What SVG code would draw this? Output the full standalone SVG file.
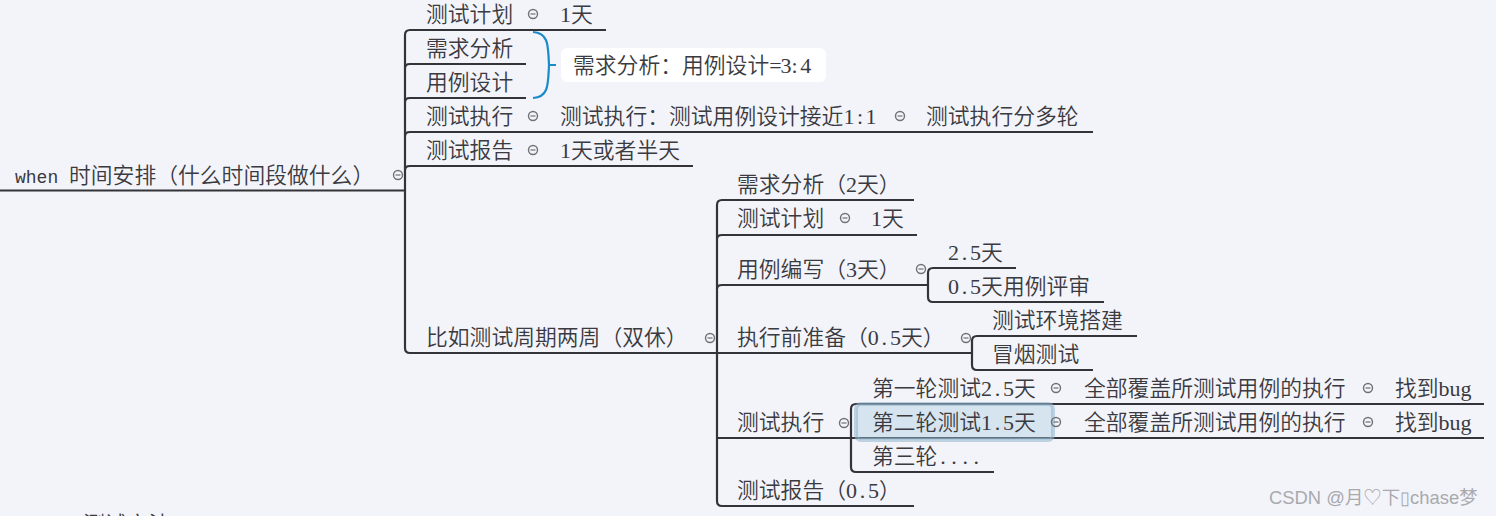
<svg xmlns="http://www.w3.org/2000/svg" width="1496" height="516" viewBox="0 0 1496 516">
<style>
text{font-family:"Noto Sans CJK SC","Liberation Serif",serif;font-size:21.8px;font-weight:350;fill:#3a3a40;white-space:pre}
tspan.l{font-family:"Liberation Mono",monospace;font-size:18px}
tspan.s{font-family:"Liberation Serif",serif;font-size:22px}
.c path{fill:none;stroke:#333338;stroke-width:2.2}
.t{fill:none;stroke:#6f7176;stroke-width:1.4}
.m{fill:none;stroke:#6f7176;stroke-width:1.2}
</style>
<defs><g id="tg"><circle class="t" r="4.5"/><line class="m" x1="-2.5" x2="2.5"/></g></defs>
<rect width="1496" height="516" fill="#f3f4fa"/>
<g id="connectors" class="c">
<path d="M0 190.5H405"/>
<path d="M405 190.5V35q0-5 5-5H606"/>
<path d="M405 68q0-4 5-4H526"/>
<path d="M405 102q0-4 5-4H526"/>
<path d="M405 136q0-4 5-4H1093"/>
<path d="M405 170q0-4 5-4H693"/>
<path d="M405 190V348q0 5 5 5H717"/>
<path d="M717 353V205q0-5 5-5H914"/>
<path d="M717 239q0-4 5-4H917"/>
<path d="M717 289q0-4 5-4H928"/>
<path d="M717 353H972"/>
<path d="M717 353V501q0 5 5 5H914"/>
<path d="M717 438H851"/>
<path d="M928 285V273q0-5 5-5H1016"/>
<path d="M928 285V297q0 5 5 5H1104"/>
<path d="M972 353V341q0-5 5-5H1137"/>
<path d="M972 353V365q0 5 5 5H1093"/>
<path d="M851 438V409q0-5 5-5H1484"/>
<path d="M851 438H1484"/>
<path d="M851 438V467q0 5 5 5H994"/>
</g>
<path d="M533 32C549 33 548 46 549 65C548 84 549 97 533 98M549 65H556" fill="none" stroke="#1a8bc9" stroke-width="2.2"/>
<g id="n-root"><text x="15" y="183"><tspan class="l">when </tspan>时间安排（什么时间段做什么）</text><use href="#tg" x="398" y="175"/></g>
<g id="n-plan"><text x="426" y="22">测试计划</text><use href="#tg" x="533" y="14"/><text x="560" y="22"><tspan class="s">1</tspan>天</text></g>
<g id="n-req"><text x="426" y="56">需求分析</text></g>
<g id="n-case"><text x="426" y="90">用例设计</text></g>
<g id="n-note"><rect x="561" y="48" width="265" height="34" rx="6" fill="#fff"/><text x="573" y="73">需求分析：用例设计<tspan class="s" dx="0 -1 0 2.5 2.5">=3:4</tspan></text></g>
<g id="n-exec"><text x="426" y="124">测试执行</text><use href="#tg" x="533" y="116"/><text x="560" y="124">测试执行：测试用例设计接近<tspan class="s" dx="0 2.5 2.5">1:1</tspan></text><use href="#tg" x="900" y="116"/><text x="926" y="124">测试执行分多轮</text></g>
<g id="n-report"><text x="426" y="158">测试报告</text><use href="#tg" x="533" y="150"/><text x="560" y="158"><tspan class="s">1</tspan>天或者半天</text></g>
<g id="n-eg"><text x="426" y="345">比如测试周期两周（双休）</text><use href="#tg" x="710" y="338"/></g>
<g id="n-a1"><text x="737" y="192">需求分析（<tspan class="s">2</tspan>天）</text></g>
<g id="n-a2"><text x="737" y="226">测试计划</text><use href="#tg" x="845" y="218"/><text x="871" y="226"><tspan class="s">1</tspan>天</text></g>
<g id="n-a3"><text x="737" y="277">用例编写（<tspan class="s">3</tspan>天）</text><use href="#tg" x="921" y="269"/></g>
<g id="n-a31"><text x="948" y="260"><tspan class="s" dx="0 2.8 2.8">2.5</tspan>天</text></g>
<g id="n-a32"><text x="948" y="294"><tspan class="s" dx="0 2.8 2.8">0.5</tspan>天用例评审</text></g>
<g id="n-a4"><text x="737" y="345">执行前准备（<tspan class="s" dx="0 2.8 2.8">0.5</tspan>天）</text><use href="#tg" x="966" y="338"/></g>
<g id="n-a41"><text x="992" y="328">测试环境搭建</text></g>
<g id="n-a42"><text x="992" y="362">冒烟测试</text></g>
<g id="n-a5"><text x="737" y="430">测试执行</text><use href="#tg" x="844" y="423"/></g>
<g id="n-a51"><text x="872" y="396">第一轮测试<tspan class="s" dx="0 2.8 2.8">2.5</tspan>天</text><use href="#tg" x="1056" y="388"/><text x="1084" y="396">全部覆盖所测试用例的执行</text><use href="#tg" x="1368" y="388"/><text x="1395" y="396">找到<tspan class="s">bug</tspan></text></g>
<g id="n-a52"><rect x="856" y="404" width="197" height="36" rx="5" fill="#a9cde0" fill-opacity=".4" stroke="#8fb4cc" stroke-opacity=".55" stroke-width="4"/><text x="872" y="430">第二轮测试<tspan class="s" dx="0 2.8 2.8">1.5</tspan>天</text><use href="#tg" x="1056" y="422"/><text x="1084" y="430">全部覆盖所测试用例的执行</text><use href="#tg" x="1368" y="422"/><text x="1395" y="430">找到<tspan class="s">bug</tspan></text></g>
<g id="n-a53"><text x="872" y="464">第三轮<tspan class="s" dx="2.8 5.6 5.6 5.6">....</tspan></text></g>
<g id="n-a6"><text x="737" y="498">测试报告（<tspan class="s" dx="0 2.8 2.8">0.5</tspan>）</text></g>
<g id="n-cut"><text x="83" y="532">测试方法</text></g>
<text x="1269" y="504" style="font-family:'Liberation Sans','Noto Sans CJK SC',sans-serif;font-size:18.4px;font-weight:400;fill:#a9a9ad">CSDN @月♡下▯chase梦</text>
</svg>
